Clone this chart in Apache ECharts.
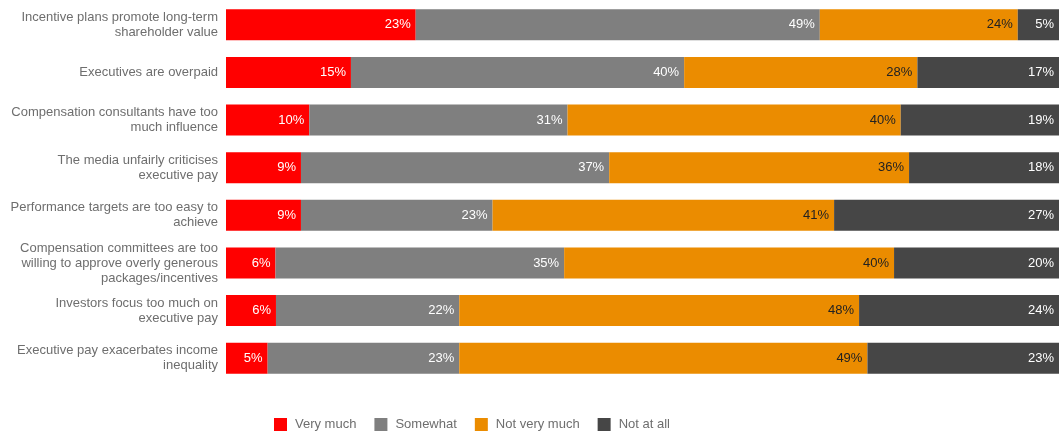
<!DOCTYPE html>
<html><head><meta charset="utf-8">
<script src="https://cdn.jsdelivr.net/npm/echarts@6/dist/echarts.min.js"></script>
<style>html,body{margin:0;padding:0;background:#fff}#c{width:1059px;height:432px}</style>
</head><body><div id="c"></div>
<script>
const categories = [
  "Incentive plans promote long-term\nshareholder value",
  "Executives are overpaid",
  "Compensation consultants have too\nmuch influence",
  "The media unfairly criticises\nexecutive pay",
  "Performance targets are too easy to\nachieve",
  "Compensation committees are too\nwilling to approve overly generous\npackages/incentives",
  "Investors focus too much on\nexecutive pay",
  "Executive pay exacerbates income\ninequality"
];
const seriesNames = ["Very much", "Somewhat", "Not very much", "Not at all"];
const veryMuch   = [23, 15, 10, 9, 9, 6, 6, 5];
const somewhat   = [49, 40, 31, 37, 23, 35, 22, 23];
const notVeryMuch= [24, 28, 40, 36, 41, 40, 48, 49];
const notAtAll   = [5, 17, 19, 18, 27, 20, 24, 23];
const colors = ["#FF0000", "#7F7F7F", "#EB8C00", "#464646"];
const labelColors = ["#ffffff", "#ffffff", "#222222", "#ffffff"];

const all = [veryMuch, somewhat, notVeryMuch, notAtAll];
const sums = categories.map((_, i) => all.reduce((s, a) => s + a[i], 0));
const FF = "Liberation Sans, Arial, sans-serif";

const chart = echarts.init(document.getElementById('c'));
chart.setOption({
  animation: false,
  textStyle: { fontFamily: FF },
  grid: { left: 226, right: 0, top: 1, bottom: 50, containLabel: false },
  legend: {
    top: 413, left: 269,
    itemWidth: 13, itemHeight: 13, itemGap: 18,
    icon: 'rect',
    textStyle: { color: '#6e6e6e', fontSize: 13, fontFamily: FF, padding: [0, 0, 0, 3] },
    data: seriesNames
  },
  xAxis: { type: 'value', min: 0, max: 100, show: false },
  yAxis: {
    type: 'category', data: categories, inverse: true,
    axisLine: { show: false }, axisTick: { show: false },
    axisLabel: { color: '#6e6e6e', fontSize: 13, lineHeight: 15, margin: 8, fontFamily: FF }
  },
  series: all.map((arr, k) => ({
    name: seriesNames[k], type: 'bar', stack: 'total', barWidth: 31,
    itemStyle: { color: colors[k] },
    data: arr.map((v, i) => ({ value: v / sums[i] * 100, raw: v })),
    label: {
      show: true, position: 'insideRight', distance: 5,
      color: labelColors[k], fontSize: 13, fontFamily: FF,
      formatter: p => p.data.raw + '%'
    }
  }))
});
</script></body></html>
